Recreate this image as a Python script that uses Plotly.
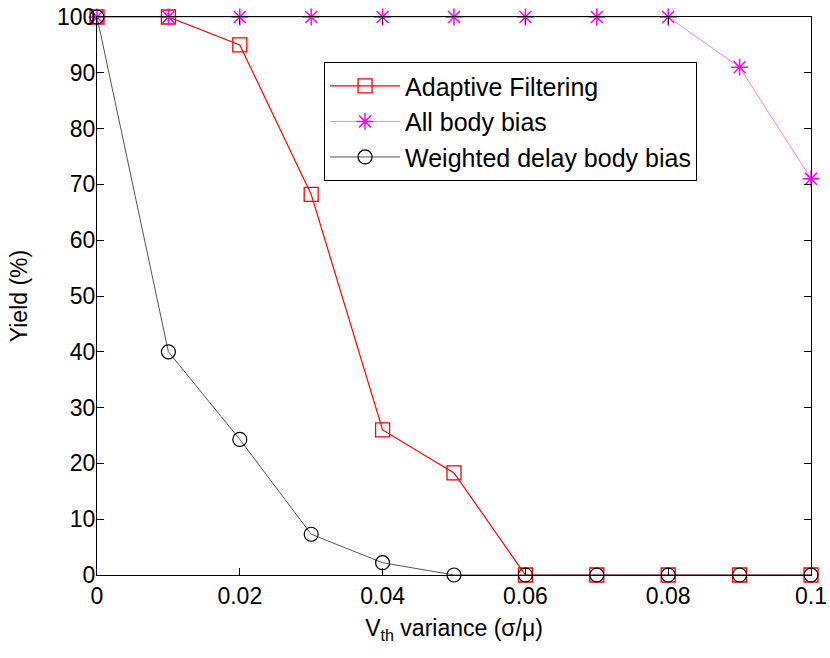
import plotly.graph_objects as go

# Vth variance (sigma/mu) sweep
variance = [0, 0.01, 0.02, 0.03, 0.04, 0.05, 0.06, 0.07, 0.08, 0.09, 0.1]

# Yield (%) for each technique
yield_adaptive = [100, 100, 95, 68.2, 26, 18.3, 0, 0, 0, 0, 0]
yield_all_bias = [100, 100, 100, 100, 100, 100, 100, 100, 100, 91, 71]
yield_weighted = [100, 40, 24.3, 7.3, 2.2, 0, 0, 0, 0, 0, 0]

x_ticks = [0, 0.02, 0.04, 0.06, 0.08, 0.1]
x_tick_text = ["0", "0.02", "0.04", "0.06", "0.08", "0.1"]
y_ticks = list(range(0, 101, 10))

FONT = "Liberation Sans, Arial, sans-serif"

fig = go.Figure()
fig.add_trace(go.Scatter(
    x=variance, y=yield_adaptive, name="Adaptive Filtering",
    mode="lines+markers", cliponaxis=False,
    line=dict(color="#ff0000", width=1.2),
    marker=dict(symbol="square-open", size=14, color="#ff0000",
                line=dict(width=1.3, color="#ff0000")),
))
fig.add_trace(go.Scatter(
    x=variance, y=yield_all_bias, name="All body bias",
    mode="lines+markers", cliponaxis=False,
    line=dict(color="#ff80ff", width=1),
    marker=dict(symbol="asterisk-open", size=14, color="#ff00ff",
                line=dict(width=1.5, color="#ff00ff")),
))
fig.add_trace(go.Scatter(
    x=variance, y=yield_weighted, name="Weighted delay body bias",
    mode="lines+markers", cliponaxis=False,
    line=dict(color="#555555", width=1),
    marker=dict(symbol="circle-open", size=14, color="#000000",
                line=dict(width=1.2, color="#000000")),
))

fig.update_layout(
    width=830, height=658,
    margin=dict(l=97, r=19, t=17, b=83, autoexpand=False),
    paper_bgcolor="white", plot_bgcolor="white",
    font=dict(family=FONT, size=23, color="black"),
    showlegend=True,
    legend=dict(
        x=0.318, y=0.919, xanchor="left", yanchor="top",
        bgcolor="white", bordercolor="black", borderwidth=1,
        font=dict(size=25, family=FONT, color="black"),
        itemwidth=70, tracegroupgap=0,
    ),
)
fig.update_xaxes(
    range=[0, 0.1], tickvals=x_ticks, ticktext=x_tick_text,
    ticks="inside", ticklen=7, tickcolor="black",
    showline=True, linecolor="black", linewidth=1, mirror="ticks",
    showgrid=False, zeroline=False, automargin=False,
    tickfont=dict(size=23),
    title=dict(text="V<sub>th</sub> variance (σ/μ)", font=dict(size=23), standoff=12),
)
fig.update_yaxes(
    range=[0, 100], tickvals=y_ticks,
    ticks="inside", ticklen=7, tickcolor="black",
    showline=True, linecolor="black", linewidth=1, mirror="ticks",
    showgrid=False, zeroline=False, automargin=False,
    ticklabelstandoff=-4,
    tickfont=dict(size=23),
    title=dict(text="Yield (%)", font=dict(size=23), standoff=22),
)

fig.write_html("out.html")
